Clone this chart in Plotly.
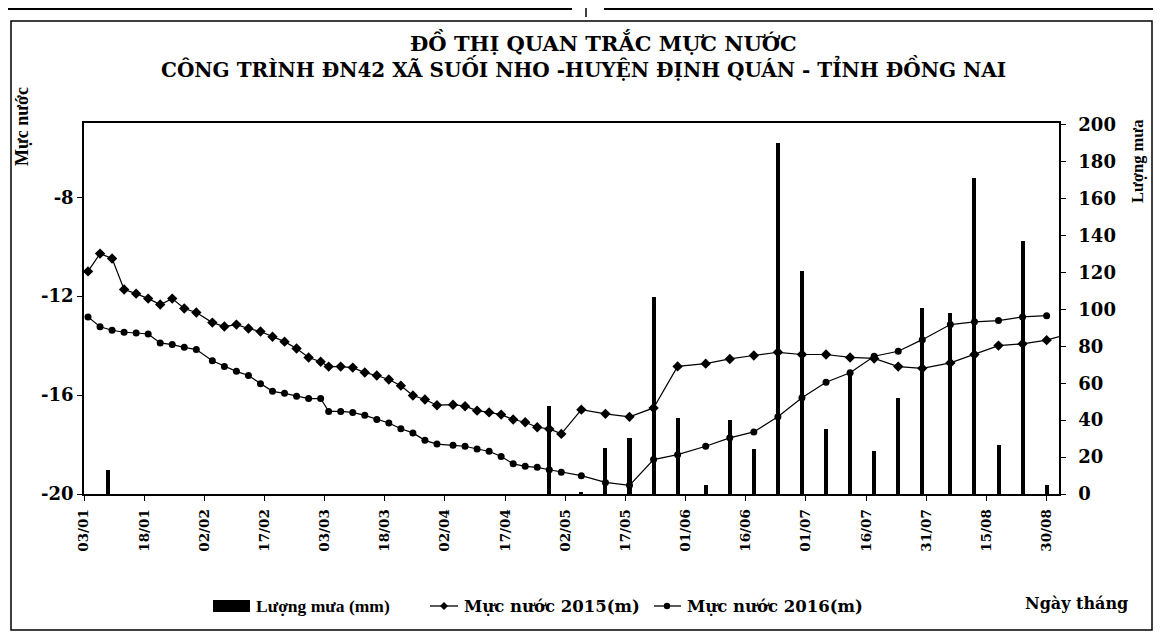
import plotly.graph_objects as go

# ---------------- data ----------------
dates_level = [
    "2016-01-04", "2016-01-07", "2016-01-10", "2016-01-13", "2016-01-16",
    "2016-01-19", "2016-01-22", "2016-01-25", "2016-01-28", "2016-01-31",
    "2016-02-04", "2016-02-07", "2016-02-10", "2016-02-13", "2016-02-16",
    "2016-02-19", "2016-02-22", "2016-02-25", "2016-02-28", "2016-03-02",
    "2016-03-04", "2016-03-07", "2016-03-10", "2016-03-13", "2016-03-16",
    "2016-03-19", "2016-03-22", "2016-03-25", "2016-03-28", "2016-03-31",
    "2016-04-04", "2016-04-07", "2016-04-10", "2016-04-13", "2016-04-16",
    "2016-04-19", "2016-04-22", "2016-04-25", "2016-04-28", "2016-05-01",
    "2016-05-06", "2016-05-12", "2016-05-18", "2016-05-24", "2016-05-30",
    "2016-06-06", "2016-06-12", "2016-06-18", "2016-06-24", "2016-06-30",
    "2016-07-06", "2016-07-12", "2016-07-18", "2016-07-24", "2016-07-30",
    "2016-08-06", "2016-08-12", "2016-08-18", "2016-08-24", "2016-08-30",
]

dates_2015 = dates_level + ["2016-09-04"]
level_2015 = [
    -11.00, -10.28, -10.48, -11.73, -11.90, -12.10, -12.34, -12.10, -12.50, -12.66,
    -13.07, -13.23, -13.15, -13.31, -13.43, -13.64, -13.84, -14.12, -14.48, -14.65,
    -14.85, -14.85, -14.89, -15.09, -15.21, -15.37, -15.62, -16.02, -16.18, -16.41,
    -16.39, -16.45, -16.63, -16.70, -16.79, -16.99, -17.10, -17.30, -17.37, -17.57,
    -16.59, -16.76, -16.88, -16.52, -14.84, -14.73, -14.54, -14.40, -14.27, -14.36,
    -14.36, -14.48, -14.52, -14.85, -14.92, -14.70, -14.36, -14.00, -13.93, -13.78,
    -13.55,
]

dates_2016 = dates_level
level_2016 = [
    -12.84, -13.24, -13.38, -13.46, -13.49, -13.53, -13.89, -13.96, -14.07, -14.16,
    -14.61, -14.84, -15.04, -15.21, -15.54, -15.85, -15.93, -16.05, -16.14, -16.14,
    -16.66, -16.66, -16.70, -16.82, -16.99, -17.13, -17.36, -17.53, -17.83, -17.98,
    -18.03, -18.07, -18.18, -18.27, -18.48, -18.78, -18.88, -18.92, -19.02, -19.12,
    -19.26, -19.53, -19.65, -18.61, -18.41, -18.07, -17.73, -17.49, -16.88, -16.11,
    -15.48, -15.10, -14.43, -14.23, -13.76, -13.15, -13.04, -12.99, -12.84, -12.79,
]

rain_dates = [
    "2016-01-09", "2016-04-28", "2016-05-06", "2016-05-12", "2016-05-18",
    "2016-05-24", "2016-05-30", "2016-06-06", "2016-06-12", "2016-06-18",
    "2016-06-24", "2016-06-30", "2016-07-06", "2016-07-12", "2016-07-18",
    "2016-07-24", "2016-07-30", "2016-08-06", "2016-08-12", "2016-08-18",
    "2016-08-24", "2016-08-30",
]
rain_mm = [
    13, 47.5, 1, 25, 30.5,
    107, 41, 5, 40, 24.6,
    190, 121, 35, 67, 23.5,
    52, 101, 98, 171, 26.5,
    137, 5,
]

left_ticks = [-20, -16, -12, -8]
left_tick_text = ["-20", "-16", "-12", "-8"]

title_line1 = "ĐỒ THỊ QUAN TRẮC MỰC NƯỚC"
title_line2 = "CÔNG TRÌNH ĐN42 XÃ SUỐI NHO -HUYỆN ĐỊNH QUÁN - TỈNH ĐỒNG NAI"
label_rain = "Lượng mưa (mm)"
label_2015 = "Mực nước 2015(m)"
label_2016 = "Mực nước 2016(m)"
ytitle_left = "Mực nước"
ytitle_right = "Lượng mưa"
xtitle = "Ngày tháng"

# ---------------- figure ----------------
OFF = 8                      # page body margin
W, H = 1161 - 2 * OFF, 642 - 2 * OFF
L, R, T, B = 84, 1059, 123, 494  # plot area in page pixels
FONT = "DejaVu Serif"
SERIF = "Liberation Serif"

def px(x):
    return (x - L) / (R - L)

def py(y):
    return (B - y) / (B - T)

DAY = 86400000

fig = go.Figure()

fig.add_trace(go.Bar(
    x=rain_dates, y=rain_mm, yaxis="y2", name=label_rain,
    marker=dict(color="black", line=dict(width=0)),
    width=1.0 * DAY, showlegend=False,
))
fig.add_trace(go.Scatter(
    x=dates_2015, y=level_2015, mode="lines+markers", name=label_2015,
    line=dict(color="black", width=1.2),
    marker=dict(symbol="diamond", size=8, color="black"),
    showlegend=False,
))
fig.add_trace(go.Scatter(
    x=dates_2016, y=level_2016, mode="lines+markers", name=label_2016,
    line=dict(color="black", width=1.2),
    marker=dict(symbol="circle", size=7, color="black"),
    showlegend=False,
))

bold = dict(color="black", weight="bold")

fig.update_layout(
    width=W, height=H,
    margin=dict(l=L - OFF, r=W - (R - OFF), t=T - OFF, b=H - (B - OFF), pad=0),
    paper_bgcolor="white", plot_bgcolor="white",
    bargap=0,
    xaxis=dict(
        type="date",
        range=["2016-01-03", "2016-09-02 02:00"],
        tick0="2016-01-03", dtick=15 * DAY, tickformat="%d/%m",
        tickangle=-90, ticks="outside", ticklen=5, tickwidth=1.2,
        tickcolor="black", showline=True, linecolor="black", linewidth=1.5,
        mirror=True, showgrid=False, zeroline=False, automargin=False,
        tickfont=dict(family=FONT, size=13.5, **bold), ticklabelstandoff=3,
    ),
    yaxis=dict(
        range=[-20, -5], tickvals=left_ticks, ticktext=left_tick_text,
        ticks="outside", ticklen=5, tickwidth=1.2, tickcolor="black",
        showline=True, linecolor="black", linewidth=1.5,
        showgrid=False, zeroline=False, automargin=False,
        tickfont=dict(family=FONT, size=18, **bold), ticklabelstandoff=0,
    ),
    yaxis2=dict(
        range=[0, 201], tick0=0, dtick=20, overlaying="y", side="right",
        ticks="outside", ticklen=5, tickwidth=1.2, tickcolor="black",
        showline=True, linecolor="black", linewidth=1.5,
        showgrid=False, zeroline=False, automargin=False,
        tickfont=dict(family=FONT, size=18, **bold), ticklabelstandoff=9,
    ),
)

ann = []
def text(x, y, s, size, xanchor="left", angle=0, family=FONT):
    ann.append(dict(
        x=px(x), y=py(y), xref="paper", yref="paper", text=s, showarrow=False,
        xanchor=xanchor, yanchor="middle", textangle=angle,
        font=dict(family=family, size=size, **bold),
    ))

text(603, 42, title_line1, 21, "center")
text(583, 69, title_line2, 20, "center")
text(22, 127, ytitle_left, 18, "center", -90, SERIF)
text(1137, 161, ytitle_right, 16.5, "center", -90, SERIF)
text(1076, 603, xtitle, 16, "center")

# custom legend
LEG_Y = 606
text(254, LEG_Y, label_rain, 17.5, family=SERIF)
text(462, LEG_Y, label_2015, 16.5)
text(685, LEG_Y, label_2016, 16.5)

shapes = []
shapes.append(dict(type="rect", xref="paper", yref="paper",
                   x0=px(213), x1=px(250), y0=py(LEG_Y + 6), y1=py(LEG_Y - 6),
                   fillcolor="black", line=dict(width=0)))
for x0, x1 in [(430, 458), (654, 681)]:
    shapes.append(dict(type="line", xref="paper", yref="paper",
                       x0=px(x0), x1=px(x1), y0=py(LEG_Y), y1=py(LEG_Y),
                       line=dict(color="black", width=1.3)))
# diamond marker in legend
cx, cy, r = 444, LEG_Y, 4
shapes.append(dict(type="path", xref="paper", yref="paper",
                   path=f"M {px(cx - r)} {py(cy)} L {px(cx)} {py(cy - r)} "
                        f"L {px(cx + r)} {py(cy)} L {px(cx)} {py(cy + r)} Z",
                   fillcolor="black", line=dict(width=0)))
cx, r = 667, 3.2
shapes.append(dict(type="circle", xref="paper", yref="paper",
                   x0=px(cx - r), x1=px(cx + r), y0=py(LEG_Y + r), y1=py(LEG_Y - r),
                   fillcolor="black", line=dict(width=0)))

# outer frame of the chart
shapes.append(dict(type="rect", xref="paper", yref="paper",
                   x0=px(11), x1=px(1152), y0=py(630), y1=py(21),
                   line=dict(color="black", width=1.5), fillcolor="rgba(0,0,0,0)"))
# scan edge lines at top
for (x0, y0, x1, y1, w) in [(8, 9, 572, 9, 2), (604, 9, 1153, 9, 2), (586, 8, 586, 17, 1.5)]:
    shapes.append(dict(type="line", xref="paper", yref="paper",
                       x0=px(x0), x1=px(x1), y0=py(y0), y1=py(y1),
                       line=dict(color="black", width=w)))

fig.update_layout(annotations=ann, shapes=shapes)

fig.write_html("out.html")
